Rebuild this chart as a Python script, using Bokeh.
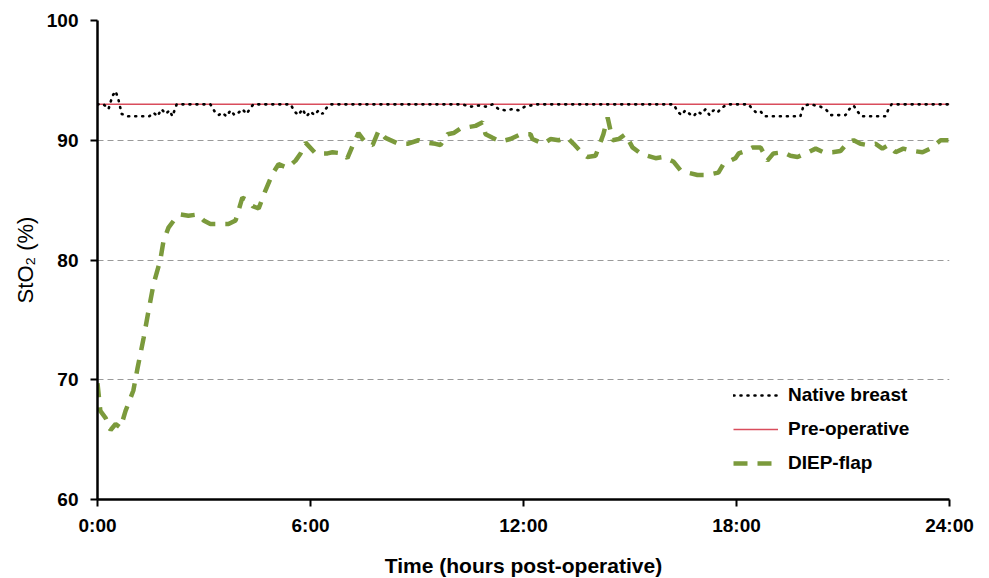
from bokeh.plotting import figure
from bokeh.models import Legend, LegendItem, FixedTicker, Range1d
from bokeh.embed import file_html
from bokeh.resources import INLINE

# Tissue oxygen saturation (StO2, %) over the first 24 hours after surgery

# DIEP-flap readings: time (hours) and StO2 (%)
flap_hours = [0.00, 0.08, 0.23, 0.37, 0.51, 0.65, 0.79, 1.01, 1.13, 1.30, 1.44, 1.58,
              1.77, 1.86, 2.00, 2.20, 2.34, 2.56, 2.82, 2.99, 3.18, 3.46, 3.69, 3.89,
              4.08, 4.23, 4.37, 4.54, 4.73, 4.93, 5.10, 5.35, 5.58, 5.72, 5.86, 6.08,
              6.14, 6.48, 6.62, 6.90, 7.04, 7.21, 7.35, 7.55, 7.75, 7.92, 8.11, 8.48,
              8.73, 9.04, 9.30, 9.52, 9.66, 9.86, 10.03, 10.23, 10.45, 10.65, 10.85, 10.93,
              11.13, 11.35, 11.63, 11.92, 12.20, 12.25, 12.56, 12.76, 12.99, 13.24, 13.41, 13.66,
              13.80, 14.03, 14.25, 14.37, 14.51, 14.68, 14.87, 15.07, 15.30, 15.49, 15.72, 15.94,
              16.23, 16.42, 16.62, 16.90, 17.18, 17.49, 17.63, 17.97, 18.06, 18.25, 18.45, 18.68,
              18.87, 19.04, 19.32, 19.52, 19.72, 20.03, 20.23, 20.45, 20.70, 20.93, 21.13, 21.30,
              21.49, 21.69, 21.92, 22.11, 22.28, 22.48, 22.70, 22.99, 23.24, 23.46, 23.75, 23.97]
flap_sto2 = [69.7, 67.4, 66.8, 65.8, 66.3, 66.0, 67.4, 69.1, 71.0, 73.5, 75.8, 78.0,
             80.0, 81.6, 82.7, 83.5, 83.8, 83.7, 83.8, 83.3, 83.0, 83.0, 83.0, 83.3,
             85.2, 85.0, 84.5, 84.3, 85.8, 87.2, 88.0, 87.7, 88.3, 88.9, 89.8, 89.1,
             88.9, 88.9, 89.0, 88.9, 88.5, 89.7, 90.6, 89.8, 89.6, 90.8, 90.2, 89.7,
             89.7, 90.0, 89.8, 89.7, 89.6, 90.5, 90.6, 91.0, 91.1, 91.2, 91.5, 90.5,
             90.2, 89.9, 90.1, 90.5, 90.5, 90.1, 89.7, 90.1, 90.0, 90.2, 89.7, 88.9,
             88.6, 88.7, 90.5, 91.9, 90.0, 90.1, 90.5, 89.4, 88.9, 88.7, 88.5, 88.6,
             88.2, 87.5, 87.3, 87.1, 87.1, 87.3, 88.0, 88.5, 88.9, 89.1, 89.4, 89.4,
             88.3, 88.9, 89.0, 88.7, 88.6, 89.0, 89.3, 89.0, 89.0, 89.1, 89.8, 90.0,
             89.7, 89.6, 89.7, 89.3, 89.6, 89.0, 89.3, 89.1, 89.0, 89.3, 90.0, 90.0]

# Native (contralateral) breast readings
native_hours = [0.00, 0.17, 0.31, 0.42, 0.51, 0.59, 0.68, 0.87, 1.07, 1.27, 1.46, 1.58,
                1.69, 1.80, 1.92, 2.03, 2.11, 2.23, 3.18, 3.30, 3.41, 3.52, 3.63, 3.75,
                3.86, 3.97, 4.08, 4.20, 4.31, 4.39, 5.44, 5.55, 5.66, 5.77, 5.89, 6.00,
                6.11, 6.23, 6.34, 6.45, 6.56, 10.28, 10.51, 10.73, 10.96, 11.13, 11.30, 11.49,
                11.69, 11.86, 12.03, 12.20, 12.37, 16.23, 16.34, 16.45, 16.56, 16.68, 16.79, 16.90,
                17.01, 17.13, 17.24, 17.35, 17.46, 17.58, 17.69, 17.80, 18.34, 18.45, 18.56, 18.68,
                18.79, 19.80, 19.89, 20.08, 20.37, 20.54, 20.65, 21.07, 21.18, 21.30, 21.41, 21.52,
                22.20, 22.28, 22.37, 24.00]
native_sto2 = [93.0, 93.0, 92.6, 93.7, 94.1, 93.4, 92.2, 92.0, 92.0, 92.0, 92.0, 92.3,
               92.0, 92.6, 92.2, 92.5, 92.0, 93.0, 93.0, 92.4, 92.1, 92.3, 92.0, 92.5,
               92.1, 92.3, 92.6, 92.2, 92.7, 93.0, 93.0, 92.4, 92.1, 92.6, 92.0, 92.4,
               92.1, 92.5, 92.2, 92.7, 93.0, 93.0, 92.8, 92.9, 92.8, 93.0, 92.6, 92.5,
               92.6, 92.5, 92.8, 92.9, 93.0, 93.0, 92.4, 92.1, 92.5, 92.2, 92.0, 92.4,
               92.2, 92.6, 92.1, 92.5, 92.3, 92.7, 92.9, 93.0, 93.0, 92.6, 92.3, 92.4,
               92.0, 92.0, 92.9, 93.0, 92.8, 92.5, 92.1, 92.1, 92.6, 92.9, 92.4, 92.0,
               92.0, 92.6, 93.0, 93.0]

# Pre-operative baseline
preop_hours = [0, 24]
preop_sto2 = [93.0, 93.0]

x_ticks = [0, 6, 12, 18, 24]
x_tick_labels = {0: "0:00", 6: "6:00", 12: "12:00", 18: "18:00", 24: "24:00"}
y_ticks = [60, 70, 80, 90, 100]

p = figure(frame_width=852, frame_height=479,
           min_border_left=97, min_border_right=40, min_border_top=20, min_border_bottom=79,
           x_range=Range1d(0, 24), y_range=Range1d(60, 100),
           output_backend="svg", toolbar_location=None,
           background_fill_color="white", border_fill_color="white")
p.outline_line_color = None

# Axes
p.xaxis.ticker = FixedTicker(ticks=x_ticks)
p.xaxis.major_label_overrides = x_tick_labels
p.yaxis.ticker = FixedTicker(ticks=y_ticks)
for ax in (p.xaxis, p.yaxis):
    ax.axis_line_width = 2.5
    ax.axis_line_color = "black"
    ax.major_tick_line_width = 2
    ax.major_tick_line_color = "black"
    ax.major_tick_in = 0
    ax.major_tick_out = 7
    ax.minor_tick_line_color = None
    ax.major_label_text_color = "black"
    ax.axis_label_text_color = "black"

p.yaxis.major_label_text_font = "Liberation Sans"
p.yaxis.major_label_text_font_style = "bold"
p.yaxis.major_label_text_font_size = "19px"
p.yaxis.major_label_standoff = 12
p.yaxis.axis_label = "StO\u2082 (%)"
p.yaxis.axis_label_text_font = "Liberation Sans"
p.yaxis.axis_label_text_font_style = "normal"
p.yaxis.axis_label_text_font_size = "22px"
p.yaxis.axis_label_standoff = 6

p.xaxis.major_label_text_font = "Liberation Sans"
p.xaxis.major_label_text_font_style = "bold"
p.xaxis.major_label_text_font_size = "19px"
p.xaxis.major_label_standoff = 8
p.xaxis.axis_label = "Time (hours post-operative)"
p.xaxis.axis_label_text_font = "Liberation Sans"
p.xaxis.axis_label_text_font_style = "bold"
p.xaxis.axis_label_text_font_size = "21px"
p.xaxis.axis_label_standoff = 15

# Horizontal dashed grid only
p.xgrid.grid_line_color = None
p.ygrid.grid_line_color = "#9a9a9a"
p.ygrid.grid_line_dash = "6 4"
p.ygrid.grid_line_width = 1.2

# Series
flap = p.line(flap_hours, flap_sto2, line_color="#7b9a3c", line_width=4.5,
              line_dash="14 10", line_cap="butt")
preop = p.line(preop_hours, preop_sto2, line_color="#d94d5c", line_width=1.5)
native = p.line(native_hours, native_sto2, line_color="black", line_width=2.6,
                line_dash="1 6", line_cap="round")

legend = Legend(items=[
    LegendItem(label="Native breast", renderers=[native]),
    LegendItem(label="Pre-operative", renderers=[preop]),
    LegendItem(label="DIEP-flap", renderers=[flap]),
], location=(636, 25))
legend.background_fill_alpha = 0
legend.border_line_color = None
legend.padding = 0
legend.margin = 0
legend.spacing = 12
legend.glyph_width = 45
legend.glyph_height = 22
legend.label_height = 22
legend.label_standoff = 10
legend.label_text_font = "Liberation Sans"
legend.label_text_font_style = "bold"
legend.label_text_font_size = "19px"
legend.label_text_color = "black"
p.add_layout(legend, "center")

open("out.html", "w").write(file_html(p, INLINE))
